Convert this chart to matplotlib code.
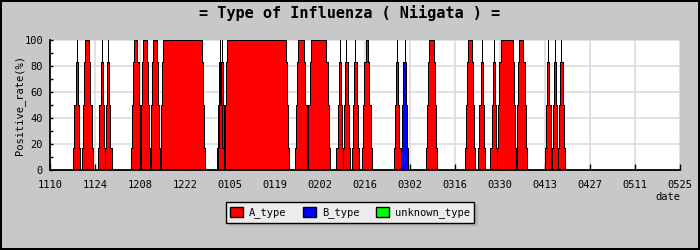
import matplotlib
matplotlib.use("Agg")
import matplotlib.pyplot as plt
from matplotlib.patches import Patch
from matplotlib.ticker import MultipleLocator

# x axis: days counted from 11/10, one label every 14 days
tick_labels = ["1110", "1124", "1208", "1222", "0105", "0119", "0202", "0216",
               "0302", "0316", "0330", "0413", "0427", "0511", "0525"]

# A_type episodes: first and last day at 100 % (days since 11/10)
a_start = [8.3, 10.9, 16.1, 18.1, 26.2, 29.0, 32.1, 35.2, 52.9, 53.4, 55.2,
           77.2, 81.1, 90.2, 92.2, 95.0, 98.2, 108.0, 118.0, 130.1, 134.3,
           138.1, 140.2, 146.0, 155.0, 157.1, 159.1]
a_end = [8.3, 12.2, 16.1, 18.1, 27.2, 30.2, 33.3, 47.2, 52.9, 53.4, 73.3,
         79.1, 86.0, 90.2, 92.2, 95.0, 99.0, 108.0, 119.4, 131.2, 134.3,
         138.1, 144.1, 147.3, 155.0, 157.1, 159.1]
# B_type episode
b_start = [110.3]
b_end = [110.3]
# unknown_type: none this season
u_start = []
u_end = []

# rate levels seen on the rise / fall of every episode
ramp_levels = [16.7, 50.0, 83.3]
ramp_step = 0.36  # days per level


def episode_outline(s, e):
    xs, ys = [s - ramp_step * 3], [0]
    for i, lv in enumerate(ramp_levels):
        xs.append(s - ramp_step * (3 - i))
        ys.append(lv)
    xs += [s, e]
    ys += [100, 100]
    for i, lv in enumerate(reversed(ramp_levels)):
        xs.append(e + ramp_step * i)
        ys.append(lv)
    xs.append(e + ramp_step * 3)
    ys.append(0)
    # step shape: go up/down vertically at each x
    sx, sy = [xs[0]], [ys[0]]
    for k in range(1, len(xs)):
        sx += [xs[k], xs[k]]
        sy += [sy[-1], ys[k]]
    return sx, sy


fig = plt.figure(figsize=(7, 2.5), dpi=100)
fig.patch.set_facecolor("#c8c8c8")
fig.patch.set_edgecolor("black")
fig.patch.set_linewidth(1.5)
ax = fig.add_axes([50 / 700, 1 - 170 / 250, 630 / 700, 130 / 250])
ax.set_facecolor("white")

for starts, ends, col in [(a_start, a_end, "#ff0000"),
                          (b_start, b_end, "#0000ff"),
                          (u_start, u_end, "#00ff00")]:
    for s, e in zip(starts, ends):
        sx, sy = episode_outline(s, e)
        ax.fill(sx, sy, facecolor=col, edgecolor="none", antialiased=False, zorder=3)
        ax.plot(sx, sy, color="black", linewidth=0.5, antialiased=False, zorder=4)

ax.set_xlim(0, 14 * (len(tick_labels) - 1))
ax.set_ylim(0, 100)
ax.set_xticks(range(0, 14 * len(tick_labels), 14))
ax.set_xticklabels(tick_labels)
ax.set_yticks(range(0, 101, 20))
ax.yaxis.set_minor_locator(MultipleLocator(10))
ax.grid(True, color="#dcdcdc", linewidth=1.2, zorder=0)
ax.set_axisbelow(True)
for side in ["top", "right"]:
    ax.spines[side].set_visible(False)
for side in ["left", "bottom"]:
    ax.spines[side].set_linewidth(1.3)
    ax.spines[side].set_zorder(5)
ax.tick_params(axis="x", direction="in", length=4, width=1, pad=7,
               labelsize=7.5, labelfontfamily="DejaVu Sans Mono")
ax.tick_params(axis="y", which="both", direction="in", length=2.5, width=1,
               pad=5, labelsize=7.5, labelfontfamily="DejaVu Sans Mono")

fig.text(0.5, 1 - 13 / 250, "= Type of Influenza ( Niigata ) =", ha="center",
         va="center", fontsize=11, fontweight="bold", family="DejaVu Sans Mono")
fig.text(20 / 700, 1 - 105 / 250, "Positive_rate(%)", rotation=90, ha="center",
         va="center", fontsize=7.5, family="DejaVu Sans Mono")
fig.text(680 / 700, 1 - 197 / 250, "date", ha="right", va="center",
         fontsize=7.5, family="DejaVu Sans Mono")

handles = [Patch(facecolor="#ff0000", edgecolor="black", label="A_type"),
           Patch(facecolor="#0000ff", edgecolor="black", label="B_type"),
           Patch(facecolor="#00ff00", edgecolor="black", label="unknown_type")]
fig.legend(handles=handles, loc="center", bbox_to_anchor=(350 / 700, 1 - 212.5 / 250),
           ncol=3, frameon=True, fancybox=False, edgecolor="black",
           facecolor="#ececec", framealpha=1,
           shadow={"facecolor": "#b4b4b4", "edgecolor": "#b4b4b4", "alpha": 1},
           prop={"family": "DejaVu Sans Mono", "size": 7.5},
           handlelength=1.2, handleheight=1.2, handletextpad=0.6,
           columnspacing=1.6, borderpad=0.4)

fig.savefig("out.png", dpi=100, facecolor=fig.get_facecolor(), edgecolor="black")
